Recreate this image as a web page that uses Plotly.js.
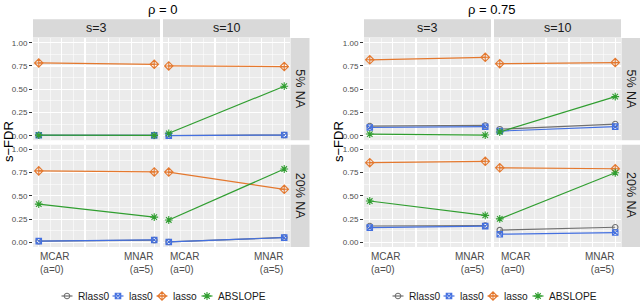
<!DOCTYPE html>
<html>
<head>
<meta charset="utf-8">
<script src="https://cdn.plot.ly/plotly-3.0.1.min.js"></script>
<style>html,body{margin:0;padding:0;background:#fff;}#chart{width:640px;height:303px;}</style>
</head>
<body>
<div id="chart"></div>
<script>
// ---------- data ----------
const xVals = [0, 1];
const xTickText = ['MCAR<br>(a=0)', 'MNAR<br>(a=5)'];
const sLabels = ['s=3', 's=10'];
const naLabels = ['5% NA', '20% NA'];
const rhoTitles = ['\u03c1 = 0', '\u03c1 = 0.75'];
const yLabel = 's\u2212FDR';
const methods = ['Rlass0', 'lass0', 'lasso', 'ABSLOPE'];

// panel order: [s=3 & 5% NA, s=10 & 5% NA, s=3 & 20% NA, s=10 & 20% NA]; values at [MCAR, MNAR]
const rho0_Rlass0  = [[0.005, 0.004], [0.002, 0.007], [0.012, 0.024], [0.004, 0.052]];
const rho0_lass0   = [[0.005, 0.004], [0.001, 0.007], [0.013, 0.025], [0.004, 0.050]];
const rho0_lasso   = [[0.782, 0.768], [0.750, 0.743], [0.768, 0.757], [0.755, 0.570]];
const rho0_ABSLOPE = [[0.006, 0.003], [0.026, 0.532], [0.411, 0.271], [0.240, 0.788]];

const rho075_Rlass0  = [[0.104, 0.110], [0.070, 0.125], [0.175, 0.179], [0.131, 0.162]];
const rho075_lass0   = [[0.088, 0.097], [0.050, 0.098], [0.158, 0.174], [0.087, 0.105]];
const rho075_lasso   = [[0.816, 0.843], [0.774, 0.786], [0.856, 0.871], [0.801, 0.791]];
const rho075_ABSLOPE = [[0.018, 0.007], [0.040, 0.420], [0.444, 0.289], [0.252, 0.748]];

const chartData = [
  [rho0_Rlass0, rho0_lass0, rho0_lasso, rho0_ABSLOPE],
  [rho075_Rlass0, rho075_lass0, rho075_lasso, rho075_ABSLOPE]
];

// ---------- styles / layout constants ----------
const colors = ['#707070', '#4470E0', '#E4782E', '#309E30'];
const symbols = ['circle-open', 'square-x-open', 'diamond-cross-open', 'asterisk-open'];
const msizes = [5.5, 5.5, 6.5, 6.5];
const FONT = 'Liberation Sans, Arial, Helvetica, sans-serif';

const W = 640, H = 303;
const fx = p => p / W;
const fy = p => 1 - p / H;
const colPx = [[33, 160], [163, 290], [364, 491], [494, 621]];
const rowPx = [[38.05, 140.35], [144.65, 246.95]];
const rightStripPx = [[290.5, 309.5], [621.5, 640]];
const titleX = [162, 492];
const yLabelX = [8, 338];
const legendStart = [67, 398];
const legendOffsets = [0, 51, 95, 140];

const layout = {
  width: W, height: H,
  margin: {l: 0, r: 0, t: 0, b: 0, pad: 0, autoexpand: false},
  paper_bgcolor: '#FFFFFF',
  plot_bgcolor: 'rgba(0,0,0,0)',
  font: {family: FONT, color: '#1A1A1A'},
  showlegend: false,
  hovermode: false,
  shapes: [],
  annotations: []
};

const traces = [];

function ann(o) {
  return Object.assign({showarrow: false, xanchor: 'center', yanchor: 'middle', borderpad: 0}, o);
}

for (let c = 0; c < 2; c++) {
  for (let r = 0; r < 2; r++) {
    for (let s = 0; s < 2; s++) {
      const n = c * 4 + r * 2 + s + 1;
      const xa = n === 1 ? 'xaxis' : 'xaxis' + n;
      const ya = n === 1 ? 'yaxis' : 'yaxis' + n;
      const xr = n === 1 ? 'x' : 'x' + n;
      const yr = n === 1 ? 'y' : 'y' + n;
      const cp = colPx[c * 2 + s];
      const rp = rowPx[r];
      layout[xa] = {
        domain: [fx(cp[0]), fx(cp[1])],
        range: [-0.05, 1.05],
        anchor: yr,
        tick0: 0, dtick: 0.2,
        showticklabels: false, ticks: '',
        showgrid: true, gridcolor: '#FFFFFF', gridwidth: 1.1,
        minor: {tick0: 0, dtick: 0.1, showgrid: true, gridcolor: '#FFFFFF', gridwidth: 0.55},
        zeroline: false, showline: false, fixedrange: true, automargin: false
      };
      layout[ya] = {
        domain: [fy(rp[1]), fy(rp[0])],
        range: [-0.05, 1.05],
        anchor: xr,
        tick0: 0, dtick: 0.25, tickformat: '.2f',
        showticklabels: s === 0,
        ticks: s === 0 ? 'outside' : '',
        ticklen: 3, tickwidth: 1, tickcolor: '#333333',
        tickfont: {size: 8, color: '#4D4D4D', family: FONT},
        showgrid: true, gridcolor: '#FFFFFF', gridwidth: 1.1,
        minor: {tick0: 0, dtick: 0.125, showgrid: true, gridcolor: '#FFFFFF', gridwidth: 0.55},
        zeroline: false, showline: false, fixedrange: true, automargin: false
      };
      // panel background
      layout.shapes.push({
        type: 'rect', xref: xr + ' domain', yref: yr + ' domain',
        x0: 0, x1: 1, y0: 0, y1: 1, layer: 'below',
        fillcolor: '#EBEBEB', line: {width: 0}
      });

      const panel = r * 2 + s;
      for (let m = 0; m < methods.length; m++) {
        traces.push({
          type: 'scatter',
          mode: 'lines+markers',
          x: xVals,
          y: chartData[c][m][panel],
          xaxis: xr,
          yaxis: yr,
          name: methods[m],
          line: {color: colors[m], width: 1.2},
          marker: {symbol: symbols[m], size: msizes[m], color: colors[m], line: {color: colors[m], width: 1.1}},
          cliponaxis: false
        });
      }

      // bottom-row category labels
      if (r === 1) {
        for (let k = 0; k < xVals.length; k++) {
          layout.annotations.push(ann({
            xref: xr, yref: 'paper',
            x: xVals[k], y: fy(249.5),
            xanchor: k === 0 ? 'left' : 'right', yanchor: 'top',
            align: k === 0 ? 'left' : 'right',
            text: xTickText[k],
            font: {size: 10, color: '#4D4D4D', family: FONT}
          }));
        }
      }
    }
    // right strip
    const nr = c * 4 + r * 2 + 2;
    const rs = rightStripPx[c];
    layout.shapes.push({
      type: 'rect', xref: 'paper', yref: 'y' + nr + ' domain',
      x0: fx(rs[0]), x1: fx(rs[1]), y0: 0, y1: 1,
      fillcolor: '#D9D9D9', line: {width: 0}
    });
    layout.annotations.push(ann({
      xref: 'paper', yref: 'y' + nr + ' domain',
      x: fx((rs[0] + rs[1]) / 2), y: 0.5,
      text: naLabels[r], textangle: 90,
      font: {size: 12.5, color: '#1A1A1A', family: FONT}
    }));
  }
  // top strips
  for (let s = 0; s < 2; s++) {
    const n = c * 4 + s + 1;
    const xr = n === 1 ? 'x domain' : 'x' + n + ' domain';
    layout.shapes.push({
      type: 'rect', xref: xr, yref: 'paper',
      x0: 0, x1: 1, y0: fy(37.6), y1: fy(19.2),
      fillcolor: '#D9D9D9', line: {width: 0}
    });
    layout.annotations.push(ann({
      xref: xr, yref: 'paper', x: 0.5, y: fy(28.4),
      text: sLabels[s],
      font: {size: 12.5, color: '#1A1A1A', family: FONT}
    }));
  }
  // chart title
  layout.annotations.push(ann({
    xref: 'paper', yref: 'paper', x: fx(titleX[c]), y: fy(10),
    text: rhoTitles[c],
    font: {size: 13, color: '#000000', family: FONT}
  }));
  // y axis label
  layout.annotations.push(ann({
    xref: 'paper', yref: 'paper', x: fx(yLabelX[c]), y: fy(142),
    text: yLabel, textangle: -90,
    font: {size: 13, color: '#000000', family: FONT}
  }));
}

// ---------- legends (one per chart), drawn on a hidden pixel-scaled axis ----------
layout.xaxis9 = {domain: [0, 1], range: [0, W], visible: false, fixedrange: true, anchor: 'y9'};
layout.yaxis9 = {domain: [fy(303), fy(289)], range: [0, 1], visible: false, fixedrange: true, anchor: 'x9'};
for (let c = 0; c < 2; c++) {
  for (let m = 0; m < methods.length; m++) {
    const p = legendStart[c] + legendOffsets[m];
    layout.shapes.push({
      type: 'line', xref: 'x9', yref: 'y9',
      x0: p - 5.5, x1: p + 5.5, y0: 0.5, y1: 0.5,
      line: {color: colors[m], width: 1.2}
    });
    traces.push({
      type: 'scatter', mode: 'markers',
      x: [p], y: [0.5], xaxis: 'x9', yaxis: 'y9',
      name: methods[m], showlegend: false,
      marker: {symbol: symbols[m], size: msizes[m], color: colors[m], line: {color: colors[m], width: 1.1}},
      cliponaxis: false
    });
    layout.annotations.push(ann({
      xref: 'x9', yref: 'y9', x: p + 9.5, y: 0.5,
      xanchor: 'left', text: methods[m],
      font: {size: 10.2, color: '#1A1A1A', family: FONT}
    }));
  }
}

Plotly.newPlot('chart', traces, layout, {staticPlot: true, displayModeBar: false});
</script>
</body>
</html>
